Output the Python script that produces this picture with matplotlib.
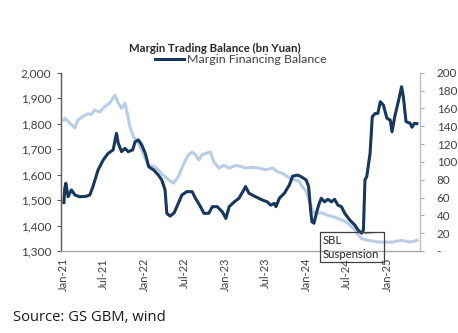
import matplotlib
matplotlib.use("Agg")
import matplotlib.pyplot as plt
import matplotlib.dates as mdates
from matplotlib.ticker import FuncFormatter, MultipleLocator
import pandas as pd

# Margin financing balance (left axis, bn Yuan)
fin_dates = ["2021-01-04", "2021-01-08", "2021-01-13", "2021-01-23", "2021-02-07", "2021-02-23",
             "2021-03-16", "2021-04-15", "2021-05-01", "2021-05-15", "2021-06-07", "2021-06-30",
             "2021-07-22", "2021-08-14", "2021-08-29", "2021-09-06", "2021-09-21", "2021-10-06",
             "2021-10-21", "2021-11-10", "2021-11-21", "2021-12-06", "2021-12-21", "2022-01-06",
             "2022-01-21", "2022-02-13", "2022-03-06", "2022-03-21", "2022-04-05", "2022-04-13",
             "2022-04-28", "2022-05-16", "2022-05-28", "2022-06-20", "2022-07-12", "2022-08-05",
             "2022-08-20", "2022-09-12", "2022-09-27", "2022-10-19", "2022-11-04", "2022-11-26",
             "2022-12-19", "2023-01-04", "2023-01-19", "2023-02-11", "2023-03-04", "2023-03-26",
             "2023-04-03", "2023-04-18", "2023-05-18", "2023-06-18", "2023-07-10", "2023-07-25",
             "2023-08-10", "2023-08-18", "2023-09-02", "2023-09-25", "2023-10-17", "2023-11-01",
             "2023-11-24", "2023-12-09", "2024-01-01", "2024-01-12", "2024-01-21", "2024-01-27",
             "2024-02-05", "2024-02-16", "2024-02-26", "2024-03-09", "2024-03-24", "2024-04-08",
             "2024-04-24", "2024-05-08", "2024-05-23", "2024-06-08", "2024-06-23", "2024-07-15",
             "2024-08-07", "2024-08-22", "2024-09-07", "2024-09-15", "2024-09-22", "2024-09-30",
             "2024-10-15", "2024-10-25", "2024-11-07", "2024-11-19", "2024-11-30", "2024-12-14",
             "2024-12-30", "2025-01-14", "2025-01-22", "2025-02-03", "2025-02-21", "2025-03-06",
             "2025-03-14", "2025-03-26", "2025-04-14", "2025-04-22", "2025-05-03", "2025-05-14"]
fin_values = [1490, 1546, 1566, 1513, 1540, 1520,
              1513, 1515, 1520, 1553, 1618, 1657,
              1683, 1697, 1762, 1723, 1690, 1703,
              1690, 1697, 1729, 1736, 1716, 1683,
              1631, 1618, 1598, 1579, 1540, 1448,
              1437, 1450, 1474, 1520, 1533, 1533,
              1507, 1474, 1448, 1448, 1474, 1474,
              1454, 1428, 1474, 1493, 1507, 1540,
              1553, 1527, 1513, 1500, 1493, 1480,
              1487, 1474, 1507, 1527, 1559, 1594,
              1598, 1592, 1579, 1553, 1461, 1415,
              1409, 1448, 1480, 1507, 1493, 1503,
              1493, 1503, 1480, 1474, 1448, 1422,
              1402, 1382, 1370, 1382, 1579, 1592,
              1683, 1827, 1840, 1840, 1886, 1873,
              1821, 1814, 1768, 1827, 1893, 1945,
              1906, 1808, 1801, 1786, 1801, 1800]

# Securities lending balance (right axis, bn Yuan)
sbl_dates = ["2021-01-04", "2021-01-09", "2021-02-01", "2021-02-23", "2021-03-08", "2021-03-31",
             "2021-04-23", "2021-05-07", "2021-05-23", "2021-06-15", "2021-07-07", "2021-07-30",
             "2021-08-22", "2021-09-06", "2021-09-21", "2021-10-06", "2021-10-17", "2021-10-29",
             "2021-11-14", "2021-12-06", "2021-12-21", "2022-01-06", "2022-01-21", "2022-02-13",
             "2022-03-06", "2022-03-28", "2022-04-20", "2022-05-13", "2022-06-05", "2022-06-28",
             "2022-07-20", "2022-08-05", "2022-08-20", "2022-09-04", "2022-09-19", "2022-10-11",
             "2022-10-26", "2022-11-11", "2022-12-04", "2022-12-26", "2023-01-19", "2023-02-18",
             "2023-03-11", "2023-04-03", "2023-05-03", "2023-06-02", "2023-07-03", "2023-08-02",
             "2023-08-25", "2023-09-17", "2023-10-17", "2023-11-09", "2023-12-02", "2023-12-09",
             "2024-01-01", "2024-01-17", "2024-02-01", "2024-02-16", "2024-03-09", "2024-04-08",
             "2024-05-08", "2024-06-08", "2024-07-08", "2024-08-07", "2024-08-22", "2024-09-07",
             "2024-10-07", "2024-11-22", "2025-01-22", "2025-03-06", "2025-04-14", "2025-05-14"]
sbl_values = [147, 149, 143, 138, 147, 151,
              154, 153, 158, 156, 162, 166,
              175, 166, 160, 166, 154, 139,
              128, 121, 113, 104, 96, 95,
              91, 85, 80, 76, 84, 98,
              108, 111, 108, 102, 108, 110,
              111, 100, 93, 96, 93, 96,
              95, 93, 94, 93, 91, 93,
              89, 87, 82, 80, 78, 74,
              67, 55, 44, 42, 43, 40,
              38, 35, 31, 24, 18, 14,
              12, 10, 10, 12, 10, 12]

tick_dates = ["2021-01-01", "2021-07-01", "2022-01-01", "2022-07-01", "2023-01-01",
              "2023-07-01", "2024-01-01", "2024-07-01", "2025-01-01"]

title_text = "Margin Trading Balance (bn Yuan)"
legend_text = "Margin Financing Balance"
source_text = "Source: GS GBM, wind"
note_text = "SBL\nSuspension"

FONT = ["Lato", "DejaVu Sans"]
plt.rcParams["font.family"] = FONT

fin_x = pd.to_datetime(fin_dates)
sbl_x = pd.to_datetime(sbl_dates)
ticks_x = pd.to_datetime(tick_dates)

fig = plt.figure(figsize=(4.58, 3.33), dpi=100)
ax = fig.add_axes([0.1332, 0.2462, 0.7838, 0.5355])
ax2 = ax.twinx()
ax.set_zorder(ax2.get_zorder() + 1)
ax.patch.set_visible(False)

DARK = "#17375E"
LIGHT = "#B9CDE5"

ax2.plot(sbl_x, sbl_values, color=LIGHT, lw=2.2, solid_joinstyle="round")
ax.plot(fin_x, fin_values, color=DARK, lw=2.2, solid_joinstyle="round", label=legend_text)

ax.set_xlim(pd.Timestamp("2020-12-22"), pd.Timestamp("2025-05-28"))
ax.set_ylim(1300, 2000)
ax2.set_ylim(0, 200)
ax.yaxis.set_major_locator(MultipleLocator(100))
ax2.yaxis.set_major_locator(MultipleLocator(20))
ax.yaxis.set_major_formatter(FuncFormatter(lambda v, p: f"{v:,.0f}"))
ax2.yaxis.set_major_formatter(FuncFormatter(lambda v, p: "-" if abs(v) < 1e-9 else f"{v:.0f}"))

ax.set_xticks(ticks_x)
ax.xaxis.set_major_formatter(mdates.DateFormatter("%b-%y"))
for lab in ax.get_xticklabels():
    lab.set_rotation(90)
ax.tick_params(axis="x", length=0, pad=5, labelsize=8.0, colors="#404040")
ax.tick_params(axis="y", length=3, width=0.8, color="#595959", labelsize=8.6, labelcolor="#404040", pad=4)
ax2.tick_params(axis="y", length=3, width=0.8, color="#A6A6A6", labelsize=8.4, labelcolor="#404040", pad=9)

for a in (ax, ax2):
    a.spines["top"].set_visible(False)
ax.spines["right"].set_visible(False)
ax2.spines["left"].set_visible(False)
ax2.spines["bottom"].set_visible(False)
ax.spines["left"].set_color("#595959")
ax.spines["left"].set_linewidth(1.0)
ax.spines["bottom"].set_color("#A6A6A6")
ax.spines["bottom"].set_linewidth(1.0)
ax2.spines["right"].set_color("#BFBFBF")
ax2.spines["right"].set_linewidth(1.0)

fig.text(0.470, 0.853, title_text, ha="center", va="center", fontsize=8.2,
         fontweight="bold", color="#262626")
ax.legend(loc="center", bbox_to_anchor=(0.502, 1.072), frameon=False, fontsize=8.9,
          handlelength=2.3, handletextpad=0.3, borderaxespad=0, borderpad=0,
          labelcolor="#404040")

# SBL suspension callout (pointer to the low of the financing balance)
low_i = fin_values.index(min(fin_values))
box_x0, box_x1 = pd.Timestamp("2024-03-04"), pd.Timestamp("2024-12-18")
ax.annotate("", xy=(fin_x[low_i], fin_values[low_i]), xytext=(pd.Timestamp("2024-11-20"), 1373),
            arrowprops=dict(arrowstyle="-", color="#404040", lw=0.8))
ax.add_patch(plt.Rectangle((mdates.date2num(box_x0), 1257), mdates.date2num(box_x1) - mdates.date2num(box_x0), 116,
                           fill=False, edgecolor="#404040", lw=0.9, clip_on=False, zorder=5))
ax.text(pd.Timestamp("2024-03-14"), 1315, note_text, ha="left", va="center", fontsize=8.2,
        color="#262626", linespacing=1.3, zorder=6)

fig.text(0.028, 0.048, source_text, ha="left", va="center", fontsize=10.6,
         color="#1a1a1a", family=["Open Sans", "DejaVu Sans"])

fig.savefig("out.png", dpi=100, facecolor="white")
